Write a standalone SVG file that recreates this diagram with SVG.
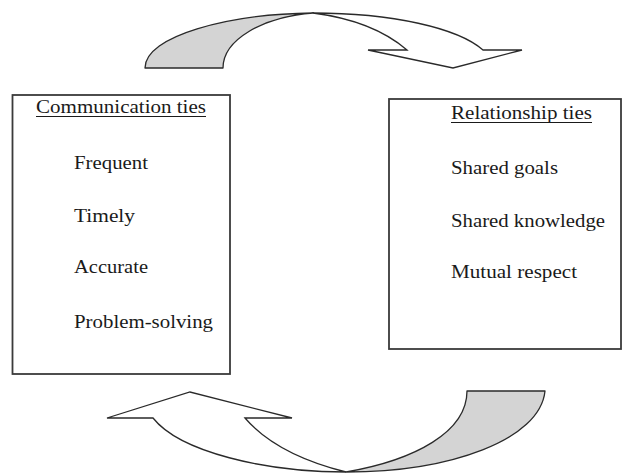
<svg xmlns="http://www.w3.org/2000/svg" width="623" height="474" viewBox="0 0 623 474">
<style>
.box{fill:#fff;stroke:#3a3a3a;stroke-width:1.8}
.t{font-family:"Liberation Serif","Times New Roman",serif;font-size:18px;fill:#1a1a1a}
.ul{stroke:#1a1a1a;stroke-width:1.2}
.gray{fill:#d4d4d4;stroke:#2a2a2a;stroke-width:1.3;stroke-linejoin:round}
.white{fill:#fff;stroke:#2a2a2a;stroke-width:1.3;stroke-linejoin:miter}
</style>
<rect width="623" height="474" fill="#fff"/>
<g id="connectors">
  <g id="top-arrow">
    <path class="gray" d="M145,68 C145,36 228,14 313,13 C262,17 223,40 223,68 Z"/>
    <path class="white" d="M313,13 C392,13 458,28 483,50 L522,50 L453,68 L368,50 L407,50 C385,31 352,18 313,13 Z"/>
  </g>
  <g id="bottom-arrow">
    <path class="gray" d="M467,391 L545,391 C540,440 450,472 346,472 C415,460 467,432 467,391 Z"/>
    <path class="white" d="M346,472 C265,472 180,452 153,418 L107,418 L190,392 L292,418 L245,418 C270,447 310,463 346,472 Z"/>
  </g>
</g>
<g id="communication-ties">
  <rect class="box" x="12.5" y="95" width="217.5" height="279"/>
  <text class="t" x="36" y="113" textLength="170" lengthAdjust="spacingAndGlyphs">Communication ties</text>
  <line class="ul" x1="36" y1="116.5" x2="206" y2="116.5"/>
  <text class="t" x="74" y="169" textLength="74" lengthAdjust="spacingAndGlyphs">Frequent</text>
  <text class="t" x="74" y="222" textLength="61" lengthAdjust="spacingAndGlyphs">Timely</text>
  <text class="t" x="74" y="273" textLength="74" lengthAdjust="spacingAndGlyphs">Accurate</text>
  <text class="t" x="74" y="328" textLength="139" lengthAdjust="spacingAndGlyphs">Problem-solving</text>
</g>
<g id="relationship-ties">
  <rect class="box" x="389" y="99" width="232" height="250"/>
  <text class="t" x="451" y="119" textLength="141" lengthAdjust="spacingAndGlyphs">Relationship ties</text>
  <line class="ul" x1="451" y1="122.5" x2="592" y2="122.5"/>
  <text class="t" x="451" y="174" textLength="107" lengthAdjust="spacingAndGlyphs">Shared goals</text>
  <text class="t" x="451" y="227" textLength="154" lengthAdjust="spacingAndGlyphs">Shared knowledge</text>
  <text class="t" x="451" y="278" textLength="126" lengthAdjust="spacingAndGlyphs">Mutual respect</text>
</g>
</svg>
